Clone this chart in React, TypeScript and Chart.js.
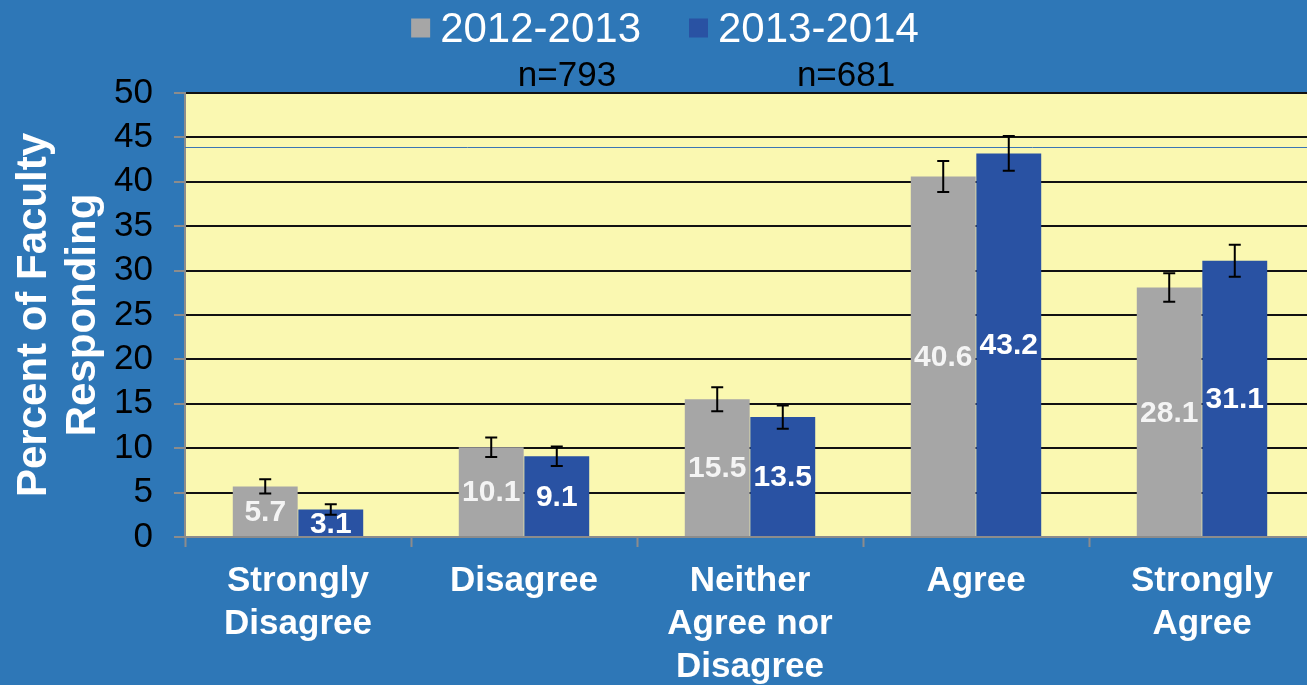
import React, { useEffect, useRef } from "react";
import { Chart, registerables } from "chart.js";

Chart.register(...registerables);

const CATEGORIES = [
  ["Strongly", "Disagree"],
  ["Disagree"],
  ["Neither", "Agree nor", "Disagree"],
  ["Agree"],
  ["Strongly", "Agree"],
];
const SERIES_NAMES = ["2012-2013", "2013-2014"];
const SAMPLE_SIZES = ["n=793", "n=681"];
const VALUES_2012 = [5.7, 10.1, 15.5, 40.6, 28.1];
const VALUES_2013 = [3.1, 9.1, 13.5, 43.2, 31.1];
const ERR_2012 = [0.8, 1.1, 1.35, 1.75, 1.6];
const ERR_2013 = [0.6, 1.1, 1.3, 1.95, 1.8];
const Y_TICKS = [0, 5, 10, 15, 20, 25, 30, 35, 40, 45, 50];
const REF_LINE = 43.9;
const Y_TITLE = ["Percent of Faculty", "Responding"];

const BG = "#2E77B7";
const PLOT_BG = "#FAF8B1";
const GRAY = "#A6A6A6";
const BLUE = "#2952A3";
const FONT = "'Liberation Sans', Arial, sans-serif";

const ERRORS = [ERR_2012, ERR_2013];

export default function App() {
  const ref = useRef<HTMLCanvasElement | null>(null);

  useEffect(() => {
    document.body.style.margin = "0";
    document.body.style.overflow = "hidden";
    document.body.style.background = BG;
    const canvas = ref.current;
    if (!canvas) return;

    const bgPlugin = {
      id: "bgPlugin",
      beforeDraw(chart: any) {
        const { ctx, chartArea } = chart;
        ctx.save();
        ctx.fillStyle = BG;
        ctx.fillRect(0, 0, chart.width, chart.height);
        ctx.fillStyle = PLOT_BG;
        ctx.fillRect(chartArea.left, chartArea.top, chartArea.right - chartArea.left, chartArea.bottom - chartArea.top);
        ctx.restore();
      },
      beforeDatasetsDraw(chart: any) {
        const { ctx, chartArea, scales } = chart;
        const y = Math.round(scales.y.getPixelForValue(REF_LINE)) + 0.5;
        ctx.save();
        ctx.strokeStyle = "#3B75B5";
        ctx.lineWidth = 1;
        ctx.beginPath();
        ctx.moveTo(chartArea.left, y);
        ctx.lineTo(chartArea.right, y);
        ctx.stroke();
        ctx.restore();
      },
      afterDatasetsDraw(chart: any) {
        const { ctx, scales } = chart;
        ctx.save();
        chart.data.datasets.forEach((ds: any, di: number) => {
          const meta = chart.getDatasetMeta(di);
          meta.data.forEach((bar: any, i: number) => {
            const v = ds.data[i];
            const e = ERRORS[di][i];
            const x = bar.x;
            const yTop = scales.y.getPixelForValue(v + e);
            const yBot = scales.y.getPixelForValue(v - e);
            // value label
            ctx.fillStyle = di === 0 ? "#F4F4F4" : "#FFFFFF";
            ctx.font = `bold 30px ${FONT}`;
            ctx.textAlign = "center";
            ctx.textBaseline = "middle";
            const yMid = scales.y.getPixelForValue(v / 2);
            ctx.fillText(String(v.toFixed(1)), x, yMid + 1);
            // error bar
            ctx.strokeStyle = "#000";
            ctx.lineWidth = 2;
            ctx.beginPath();
            ctx.moveTo(x, yTop);
            ctx.lineTo(x, yBot);
            ctx.moveTo(x - 6, yTop);
            ctx.lineTo(x + 6, yTop);
            ctx.moveTo(x - 6, yBot);
            ctx.lineTo(x + 6, yBot);
            ctx.stroke();
          });
        });
        ctx.restore();
      },
      afterDraw(chart: any) {
        const { ctx, chartArea } = chart;
        ctx.save();
        // legend
        ctx.font = `42px ${FONT}`;
        ctx.textBaseline = "middle";
        ctx.textAlign = "left";
        const box = 19;
        const gap = 10;
        const itemGap = 48;
        const widths = chart.data.datasets.map((d: any) => box + gap + ctx.measureText(d.label).width);
        const total = widths.reduce((a: number, b: number) => a + b, 0) + itemGap * (widths.length - 1);
        let x = chart.width / 2 - total / 2;
        const ly = 28;
        chart.data.datasets.forEach((d: any, i: number) => {
          ctx.fillStyle = d.backgroundColor;
          ctx.fillRect(x, ly - box / 2, box, box);
          ctx.fillStyle = "#FFFFFF";
          ctx.fillText(d.label, x + box + gap, ly + 2);
          x += widths[i] + itemGap;
        });
        // sample sizes
        ctx.font = `35px ${FONT}`;
        ctx.fillStyle = "#000";
        ctx.textAlign = "center";
        const w = chartArea.right - chartArea.left;
        const nx = [0.338, 0.585];
        SAMPLE_SIZES.forEach((s, i) => {
          ctx.fillText(s, chartArea.left + w * nx[i], 76);
        });
        // y title
        ctx.font = `bold 42px ${FONT}`;
        ctx.fillStyle = "#FFFFFF";
        ctx.textAlign = "center";
        const cy = (chartArea.top + chartArea.bottom) / 2;
        const lineX = [34, 83];
        Y_TITLE.forEach((t, i) => {
          ctx.save();
          ctx.translate(lineX[i], cy);
          ctx.rotate(-Math.PI / 2);
          ctx.fillText(t, 0, 0);
          ctx.restore();
        });
        ctx.restore();
      },
    };

    const chart = new Chart(canvas, {
      type: "bar",
      data: {
        labels: CATEGORIES,
        datasets: [
          { label: SERIES_NAMES[0], data: VALUES_2012, backgroundColor: GRAY, barPercentage: 0.99, categoryPercentage: 0.58 },
          { label: SERIES_NAMES[1], data: VALUES_2013, backgroundColor: BLUE, barPercentage: 0.99, categoryPercentage: 0.58 },
        ],
      },
      options: {
        animation: false,
        responsive: false,
        maintainAspectRatio: false,
        layout: { padding: { top: 93, right: 15, left: 0, bottom: 0 } },
        plugins: { legend: { display: false }, tooltip: { enabled: false } },
        scales: {
          x: {
            grid: { display: true, drawOnChartArea: false, drawTicks: true, tickLength: 10, tickColor: "#8C8C8C", tickWidth: 2 },
            border: { color: "#8C8C8C", width: 2 },
            ticks: { color: "#FFFFFF", font: { family: FONT, size: 35, weight: "bold", lineHeight: 1.23 }, padding: 13, maxRotation: 0, autoSkip: false },
            afterFit(scale: any) { scale.height = 148; },
          },
          y: {
            min: 0,
            max: 50,
            afterBuildTicks(scale: any) { scale.ticks = Y_TICKS.map((v) => ({ value: v })); },
            grid: {
              color: (c: any) => (c.tick && c.tick.value === 0 ? "rgba(0,0,0,0)" : "#111"),
              lineWidth: 2,
              tickLength: 11,
              tickColor: "#8C8C8C",
              tickWidth: 2,
            },
            border: { color: "#8C8C8C", width: 2 },
            ticks: { color: "#000", font: { family: FONT, size: 35, lineHeight: 1 }, padding: 21, autoSkip: false },
            afterFit(scale: any) { scale.width = 185; },
          },
        },
      },
      plugins: [bgPlugin],
    } as any);
    return () => chart.destroy();
  }, []);

  return (
    <div style={{ width: 1330, height: 685, overflow: "hidden" }}>
      <canvas ref={ref} width={1330} height={685} style={{ display: "block" }} />
    </div>
  );
}
